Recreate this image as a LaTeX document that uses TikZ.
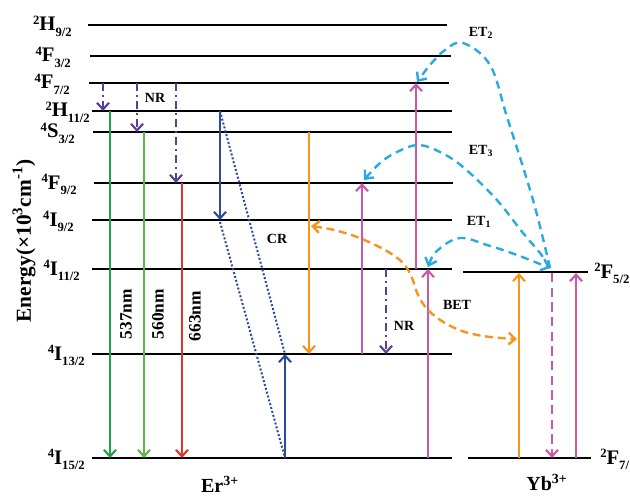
\documentclass[tikz,border=0pt]{standalone}
\usepackage{fontspec}
\setmainfont{Liberation Serif}
\usetikzlibrary{arrows.meta}
\definecolor{gA}{HTML}{22A04B}
\definecolor{gB}{HTML}{5AB947}
\definecolor{redL}{HTML}{E4322B}
\definecolor{purp}{HTML}{5B3E96}
\definecolor{blueL}{HTML}{2E4A9E}
\definecolor{orng}{HTML}{F7941D}
\definecolor{magL}{HTML}{C859A8}
\definecolor{cyanL}{HTML}{29ABE2}
\newcommand\lsup[1]{\raisebox{0.3em}{\fontsize{9.5}{10}\selectfont #1}}
\newcommand\lsub[1]{\raisebox{-0.28em}{\fontsize{9.5}{10}\selectfont #1}}
\tikzset{
  lvl/.style={line width=2pt, black},
  tip/.style={-{Straight Barb[length=5pt,width=9pt]}},
  arr/.style={line width=1.6pt, tip},
  nrarr/.style={arr, purp, dash pattern=on 6pt off 3pt on 1.5pt off 3pt},
  lab/.style={font=\fontsize{15.5}{18}\selectfont\bfseries, anchor=base east, inner sep=0pt},
  labr/.style={font=\fontsize{15.5}{18}\selectfont\bfseries, anchor=base west, inner sep=0pt},
  small/.style={font=\fontsize{10.5}{12}\selectfont\bfseries, inner sep=0pt},
  wl/.style={font=\fontsize{13}{15}\selectfont\bfseries, rotate=90, inner sep=0pt},
  ion/.style={font=\fontsize{15}{17}\selectfont\bfseries, inner sep=0pt},
  etc/.style={line width=1.8pt, cyanL, dash pattern=on 6pt off 4pt},
}
\begin{document}
\begin{tikzpicture}[x=0.75pt,y=-0.75pt]
\useasboundingbox (0,0) rectangle (630,495);

% Er levels
\draw[lvl] (88,25) -- (447,25);
\draw[lvl] (90,56) -- (451,56);
\draw[lvl] (89,83) -- (449,83);
\draw[lvl] (92,111) -- (452,111);
\draw[lvl] (93,132) -- (452,132);
\draw[lvl] (94,183) -- (453,183);
\draw[lvl] (92,220) -- (452,220);
\draw[lvl] (92,269) -- (452,269);
\draw[lvl] (92,354) -- (452,354);
\draw[lvl] (92,458) -- (452,458);
% Yb levels
\draw[lvl] (463,272) -- (588,272);
\draw[lvl] (468,458) -- (591,458);

% level labels
\node[lab] (l1) at (72,31) {\lsup{2}H\lsub{9/2}};
\node[lab] (l2) at (71,62) {\lsup{4}F\lsub{3/2}};
\node[lab] (l3) at (70,89) {\lsup{4}F\lsub{7/2}};
\node[lab] (l4) at (90,117) {\lsup{2}H\lsub{11/2}};
\node[lab] (l5) at (75,138) {\lsup{4}S\lsub{3/2}};
\node[lab] (l6) at (77,189) {\lsup{4}F\lsub{9/2}};
\node[lab] (l7) at (74,226) {\lsup{4}I\lsub{9/2}};
\node[lab] (l8) at (80,275) {\lsup{4}I\lsub{11/2}};
\node[lab] (l9) at (85,360) {\lsup{4}I\lsub{13/2}};
\node[lab] (l10) at (85,464) {\lsup{4}I\lsub{15/2}};
\node[labr] (y1) at (594,278) {\lsup{2}F\lsub{5/2}};
\node[labr] (y2) at (600,464) {\lsup{2}F\lsub{7/}};

% axis label
\node[font=\fontsize{16}{18}\selectfont\bfseries, rotate=90, inner sep=0pt] (axis) at (24,241)
  {Energy(×10\textsuperscript{3}cm\textsuperscript{-1})};

% ion labels
\node[ion] (er) at (220,484) {Er\textsuperscript{3+}};
\node[ion] (yb) at (547,482) {Yb\textsuperscript{3+}};

% NR arrows from 4F7/2
\draw[nrarr] (103,83) -- (103,111);
\draw[nrarr] (137,83) -- (137,132);
\draw[nrarr] (176,83) -- (176,183);
\node[small] (nr1) at (155,98) {NR};

% emissions
\draw[arr, gA] (110,111) -- (110,458);
\draw[arr, gB] (144,132) -- (144,458);
\draw[arr, redL] (182,183) -- (182,458);
\node[wl] (w1) at (126,314) {537nm};
\node[wl] (w2) at (158,314) {560nm};
\node[wl] (w3) at (195,316) {663nm};

% cross relaxation
\draw[arr, blueL] (220,111) -- (220,220);
\draw[arr, blueL] (285,458) -- (285,354);
\draw[blueL, line width=1.5pt, dash pattern=on 1.5pt off 1.5pt] (220,111) -- (285,354);
\draw[blueL, line width=1.5pt, dash pattern=on 1.5pt off 1.5pt] (220,222) -- (285,458);
\node[small] (cr) at (277,239) {CR};

% orange Er
\draw[arr, orng] (309,132) -- (309,354);

% magenta Er
\draw[arr, magL] (362,354) -- (362,183);
\draw[arr, magL] (416,269) -- (416,83);
\draw[arr, magL] (428,458) -- (428,269);
\draw[nrarr] (386,269) -- (386,354);
\node[small] (nr2) at (404,326) {NR};

% Yb arrows
\draw[arr, orng] (519,458) -- (519,273);
\draw[arr, magL, dash pattern=on 7pt off 4pt] (552,273) -- (552,458);
\draw[arr, magL] (576,458) -- (576,273);

% BET
\draw[line width=1.8pt, orng, dash pattern=on 6pt off 3.5pt, {Straight Barb[length=5pt,width=9pt]}-{Straight Barb[length=5pt,width=9pt]}]
  plot[smooth, tension=0.6] coordinates {(311,226) (330,229) (357,237) (385,250) (403,263) (412,278) (418,295) (428,310) (445,323) (465,332) (490,337) (517,339)};
\node[small] (bet) at (457,305) {BET};

% ET curves
\draw[etc, tip] plot[smooth, tension=0.6] coordinates {(550,268) (533,200) (507,117) (490,65) (463,43) (445,50) (430,65) (417,82)};
\draw[etc, tip] plot[smooth, tension=0.6] coordinates {(550,268) (540,253) (523,233) (496,199) (463,167) (440,152) (418,145) (397,152) (380,163) (364,180)};
\draw[etc, {Straight Barb[length=5pt,width=9pt]}-{Straight Barb[length=5pt,width=9pt]}] plot[smooth, tension=0.6] coordinates {(428,267) (438,250) (460,238) (487,245) (517,255) (550,268)};
\node[small] (et2) at (481,33) {ET\textsubscript{2}};
\node[small] (et3) at (481,151) {ET\textsubscript{3}};
\node[small] (et1) at (479,222) {ET\textsubscript{1}};
\end{tikzpicture}
\end{document}
